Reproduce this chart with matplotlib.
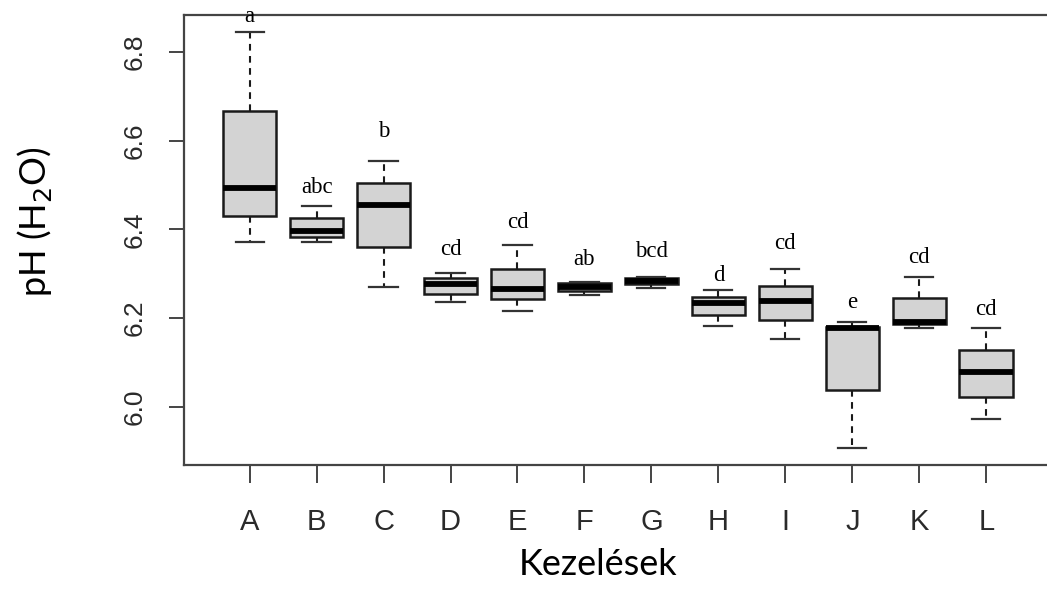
import matplotlib.pyplot as plt
import numpy as np

# pH (H2O) per treatment: whisker ends, quartiles and medians
kezelesek = ["A", "B", "C", "D", "E", "F", "G", "H", "I", "J", "K", "L"]
whisker_lo = [6.371, 6.371, 6.269, 6.237, 6.216, 6.252, 6.268, 6.183, 6.153, 5.907, 6.177, 5.972]
q1 = [6.430, 6.382, 6.361, 6.254, 6.243, 6.261, 6.276, 6.207, 6.196, 6.038, 6.187, 6.023]
median = [6.493, 6.397, 6.454, 6.276, 6.265, 6.271, 6.284, 6.235, 6.239, 6.177, 6.192, 6.078]
q3 = [6.667, 6.425, 6.505, 6.291, 6.311, 6.279, 6.291, 6.247, 6.273, 6.181, 6.246, 6.128]
whisker_hi = [6.844, 6.453, 6.554, 6.301, 6.364, 6.282, 6.293, 6.264, 6.310, 6.191, 6.292, 6.177]

# significance letters and the height they are written at
betuk = ["a", "abc", "b", "cd", "cd", "ab", "bcd", "d", "cd", "e", "cd", "cd"]
betu_y = [6.879, 6.494, 6.620, 6.354, 6.415, 6.331, 6.350, 6.297, 6.369, 6.234, 6.337, 6.219]

stats = []
for i in range(len(kezelesek)):
    stats.append({"whislo": whisker_lo[i], "q1": q1[i], "med": median[i],
                  "q3": q3[i], "whishi": whisker_hi[i], "fliers": []})

fig = plt.figure(figsize=(10.47, 6.06), dpi=100)
ax = fig.add_axes([0.1757, 0.2327, 0.829, 0.7426])

pos = np.arange(1, len(kezelesek) + 1)
ax.bxp(stats, positions=pos, widths=0.8, patch_artist=True, showfliers=False,
       boxprops=dict(facecolor="#d3d3d3", edgecolor="#1a1a1a", linewidth=1.8),
       medianprops=dict(color="black", linewidth=4.2, solid_capstyle="butt"),
       whiskerprops=dict(color="#1a1a1a", linewidth=1.5, linestyle=(0, (3.2, 2.6))),
       capprops=dict(color="#333333", linewidth=1.6),
       capwidths=0.42)

for x, b, y in zip(pos, betuk, betu_y):
    ax.text(x, y, b, ha="center", va="center", fontsize=16.5,
            family="Liberation Serif", color="black", zorder=5)

ax.set_xlim(0.02, 12.98)
ax.set_ylim(5.869, 6.883)
ax.set_xticks(pos)
ax.set_xticklabels(kezelesek, family="Liberation Sans", fontsize=21, color="#2a2a2a")
ax.set_yticks([6.0, 6.2, 6.4, 6.6, 6.8])
ax.set_yticklabels(["6.0", "6.2", "6.4", "6.6", "6.8"], family="Liberation Sans",
                   fontsize=19, color="#2a2a2a", rotation=90, va="center")
ax.tick_params(axis="x", length=13, width=1.4, color="#444444", pad=18)
ax.tick_params(axis="y", length=11, width=1.4, color="#444444", pad=16)

for s in ["left", "bottom", "top"]:
    ax.spines[s].set_color("#444444")
    ax.spines[s].set_linewidth(1.6)
ax.spines["right"].set_visible(False)

fig.text(0.571, 0.068, "Kezelések", ha="center", va="center", fontsize=26,
         family="Lato", color="black")
fig.text(0.033, 0.634, "pH (H$_2$O)", ha="center", va="center", fontsize=26,
         family="Lato", color="black", rotation=90)

fig.savefig("out.png", dpi=100)
